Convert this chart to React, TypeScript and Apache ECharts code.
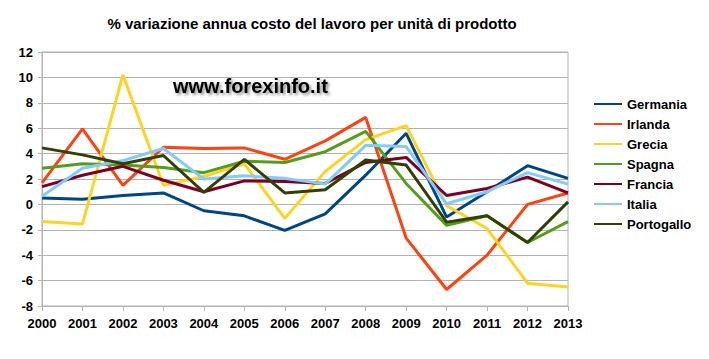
import React, { useEffect, useRef } from "react";
import * as echarts from "echarts";

const years = ["2000","2001","2002","2003","2004","2005","2006","2007","2008","2009","2010","2011","2012","2013"];
const germania = [0.5, 0.4, 0.7, 0.9, -0.5, -0.9, -2.05, -0.75, 2.3, 5.6, -1.0, 1.0, 3.05, 2.05];
const irlanda = [1.7, 5.95, 1.5, 4.5, 4.4, 4.45, 3.55, 5.0, 6.85, -2.65, -6.7, -4.0, 0.0, 0.9];
const grecia = [-1.35, -1.55, 10.2, 1.5, 2.2, 3.2, -1.1, 2.6, 5.1, 6.2, -0.1, -1.9, -6.2, -6.5];
const spagna = [2.85, 3.2, 3.1, 2.9, 2.5, 3.4, 3.3, 4.15, 5.75, 1.65, -1.65, -0.9, -3.0, -1.35];
const francia = [1.4, 2.3, 3.0, 1.9, 1.0, 1.85, 1.8, 1.65, 3.3, 3.7, 0.7, 1.25, 2.15, 0.9];
const italia = [0.65, 2.85, 3.45, 4.4, 2.0, 2.25, 2.05, 1.6, 4.65, 4.55, 0.05, 1.0, 2.5, 1.6];
const portogallo = [4.45, 3.9, 3.2, 3.85, 0.95, 3.55, 0.9, 1.15, 3.5, 3.1, -1.4, -0.9, -3.0, 0.2];

const seriesNames = ["Germania", "Irlanda", "Grecia", "Spagna", "Francia", "Italia", "Portogallo"];
const seriesData = [germania, irlanda, grecia, spagna, francia, italia, portogallo];
const colors = ["#004586", "#ff420e", "#ffd320", "#579d1c", "#7e0021", "#83caff", "#314004"];

const FONT = "'Liberation Sans', Arial, sans-serif";

export default function App() {
  const ref = useRef<HTMLDivElement>(null);
  useEffect(() => {
    if (!ref.current) return;
    const chart = echarts.init(ref.current, undefined, { renderer: "svg" });
    chart.setOption({
      animation: false,
      backgroundColor: "#ffffff",
      color: colors,
      title: {
        text: "% variazione annua costo del lavoro per unità di prodotto",
        left: 307,
        textAlign: "center",
        top: 11,
        textStyle: { fontFamily: FONT, fontSize: 15, fontWeight: "bold", color: "#000" },
      },
      legend: {
        orient: "vertical",
        left: 589,
        top: 92,
        icon: "rect",
        itemWidth: 28,
        itemHeight: 2,
        itemGap: 6,
        data: seriesNames,
        textStyle: { fontFamily: FONT, fontSize: 13, fontWeight: "bold", color: "#000", lineHeight: 14 },
      },
      grid: { left: 42, right: 141, top: 52, bottom: 53, show: true, borderColor: "#b3b3b3", borderWidth: 1 },
      xAxis: {
        type: "category",
        data: years,
        boundaryGap: false,
        axisLine: { onZero: false, lineStyle: { color: "#b3b3b3" } },
        axisTick: { show: true, length: 5, lineStyle: { color: "#b3b3b3" } },
        axisLabel: { fontFamily: FONT, fontSize: 13, fontWeight: "bold", color: "#000", margin: 11, interval: 0 },
        splitLine: { show: false },
      },
      yAxis: {
        type: "value",
        min: -8,
        max: 12,
        interval: 2,
        axisLine: { show: true, lineStyle: { color: "#b3b3b3" } },
        axisTick: { show: true, length: 4, lineStyle: { color: "#b3b3b3" } },
        axisLabel: { fontFamily: FONT, fontSize: 13, fontWeight: "bold", color: "#000", margin: 9 },
        splitLine: { lineStyle: { color: "#b3b3b3", width: 1 } },
      },
      graphic: [
        {
          type: "text",
          left: 173,
          top: 76,
          style: {
            text: "www.forexinfo.it",
            font: `bold 20px ${FONT}`,
            fill: "#000",
            textShadowColor: "rgba(0,0,0,0.45)",
            textShadowBlur: 3,
            textShadowOffsetX: 2,
            textShadowOffsetY: 2,
          },
        },
      ],
      series: seriesNames.map((name, i) => ({
        name,
        type: "line",
        data: seriesData[i],
        symbol: "none",
        lineStyle: { width: 3, color: colors[i] },
        itemStyle: { color: colors[i] },
      })),
    });
    return () => chart.dispose();
  }, []);
  return <div ref={ref} style={{ position: "fixed", left: 0, top: 0, width: 709, height: 359 }} />;
}
